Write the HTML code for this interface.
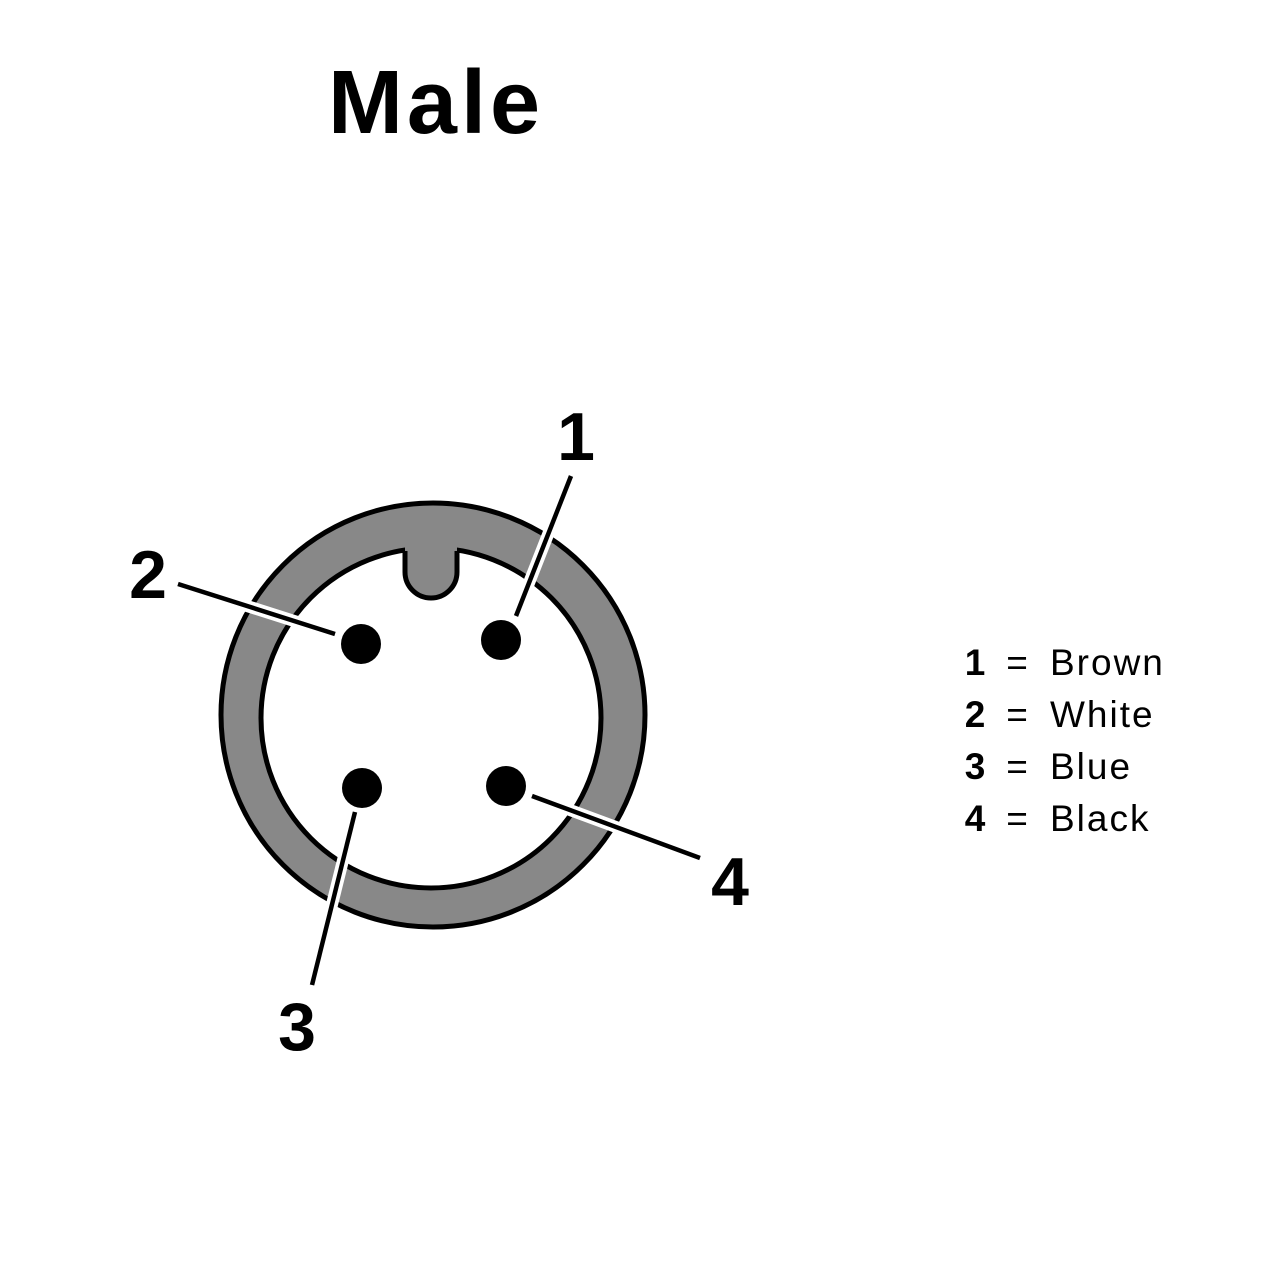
<!DOCTYPE html>
<html><head><meta charset="utf-8"><style>
html,body{margin:0;padding:0;background:#fff;}
svg{display:block;}
</style></head><body>
<svg width="1280" height="1280" viewBox="0 0 1280 1280" xmlns="http://www.w3.org/2000/svg" font-family="Liberation Sans, sans-serif">
<rect width="1280" height="1280" fill="#fff"/>
<text x="436" y="133" font-size="90" font-weight="bold" text-anchor="middle" fill="#000" letter-spacing="4">Male</text>
<circle cx="433" cy="715" r="212" fill="#888" stroke="#000" stroke-width="5"/>
<circle cx="431" cy="718" r="170" fill="#fff" stroke="#000" stroke-width="5"/>
<path d="M405 540 L405 572 A26 26 0 0 0 457 572 L457 540 Z" fill="#888"/>
<path d="M405 551 L405 572 A26 26 0 0 0 457 572 L457 551" fill="none" stroke="#000" stroke-width="5" stroke-linejoin="round"/>
<circle cx="361" cy="644" r="20" fill="#000"/>
<circle cx="501" cy="640" r="20" fill="#000"/>
<circle cx="362" cy="788" r="20" fill="#000"/>
<circle cx="506" cy="786" r="20" fill="#000"/>
<g stroke-linecap="butt">
<g stroke="#fff" stroke-width="12">
<line x1="571" y1="476" x2="516" y2="616"/>
<line x1="178" y1="584" x2="335" y2="634"/>
<line x1="355" y1="812" x2="312" y2="985"/>
<line x1="532" y1="796" x2="700" y2="858"/>
</g>
<g stroke="#000" stroke-width="4.5">
<line x1="571" y1="476" x2="516" y2="616"/>
<line x1="178" y1="584" x2="335" y2="634"/>
<line x1="355" y1="812" x2="312" y2="985"/>
<line x1="532" y1="796" x2="700" y2="858"/>
</g>
</g>
<g font-size="68" font-weight="bold" fill="#000" text-anchor="middle">
<text x="576" y="460">1</text>
<text x="148" y="598">2</text>
<text x="297" y="1050">3</text>
<text x="730" y="905">4</text>
</g>
<g font-size="37" fill="#000">
<g font-weight="bold" text-anchor="middle">
<text x="975" y="675">1</text>
<text x="975" y="727">2</text>
<text x="975" y="779">3</text>
<text x="975" y="831">4</text>
</g>
<g text-anchor="middle">
<text x="1017" y="675">=</text>
<text x="1017" y="727">=</text>
<text x="1017" y="779">=</text>
<text x="1017" y="831">=</text>
</g>
<g letter-spacing="2">
<text x="1050" y="675">Brown</text>
<text x="1050" y="727">White</text>
<text x="1050" y="779">Blue</text>
<text x="1050" y="831">Black</text>
</g>
</g>
</svg>
</body></html>
